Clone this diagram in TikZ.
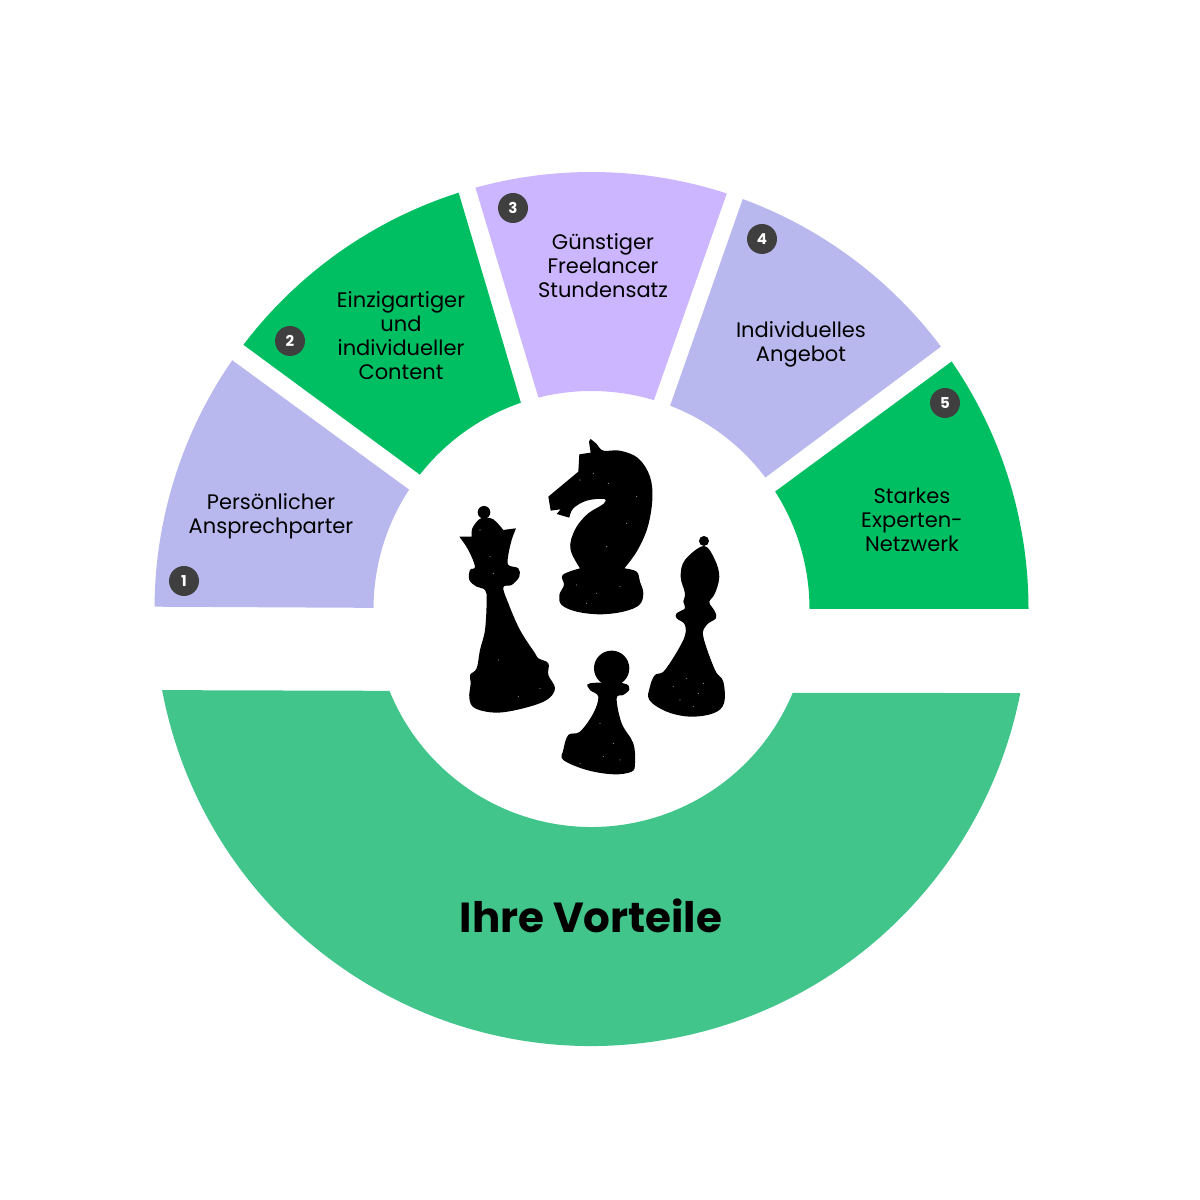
\documentclass[tikz,border=0pt]{standalone}
\usepackage{fontspec}
\setmainfont{Poppins}
\definecolor{lavender}{HTML}{B9B8EE}
\definecolor{richgreen}{HTML}{00BF63}
\definecolor{lilac}{HTML}{CBB6FF}
\definecolor{softgreen}{HTML}{41C58B}
\definecolor{badgegrey}{HTML}{3F3F3F}
\newcommand{\ringseg}[5]{\fill[#1] (#2:437) arc[start angle=#2, end angle=#3, radius=437] -- (#4:218) arc[start angle=#4, end angle=#5, radius=218] -- cycle;}

\begin{document}
\begin{tikzpicture}[
    x=1pt, y=1pt,
    lbl/.style={align=center, inner sep=0pt, font=\fontsize{21}{24}\selectfont},
    badge/.style={circle, fill=badgegrey, text=white, minimum size=30pt, inner sep=0pt, font=\fontsize{15}{15}\selectfont\bfseries},
    title/.style={inner sep=0pt, font=\fontsize{42}{48}\selectfont\bfseries},
    piece/.style={fill=black},
    speck/.style={fill=white!70!black},
    zoomframe/.style={shift={(440,770)}, x=0.3333pt, y=-0.3333pt},
    soft/.style={smooth, tension=.6}
]
    \useasboundingbox (0,0) rectangle (1200,1200);

    % ring
    \begin{scope}[shift={(591.5,591)}]
        \ringseg{lavender}{179.7}{145.3}{146.8}{179.7}
        \ringseg{richgreen}{142.8}{107.7}{108.9}{141.95}
        \ringseg{lilac}{105.4}{71.96}{73.35}{104.1}
        \ringseg{lavender}{69.75}{36.9}{37.1}{68.86}
        \ringseg{richgreen}{34.5}{0}{0}{32.6}
        \ringseg{softgreen}{190.7}{348.9}{337.4}{202.05}
    \end{scope}

    % chess pieces
    \begin{scope}[zoomframe]
        % knight
        \fill[piece] plot[soft] coordinates {(452,27) (470,42) (490,62) (540,62) (595,85) (630,140) (637,210) (622,295) (590,365) (553,415)}
            -- plot[soft] coordinates {(553,415) (590,425) (600,455) (610,490) (598,525) (550,545) (480,553) (410,545) (365,525) (358,495) (372,465) (368,435) (420,415)}
            -- plot[soft] coordinates {(420,415) (395,370) (392,335) (410,290) (445,250) (490,222) (492,207) (440,212) (400,235) (388,263)}
            -- (350,252) -- (362,238) -- (332,242) -- (325,200) -- (415,125) -- (418,73) -- (452,68) -- (447,35) -- cycle;
        % queen
        \fill[piece] (132,247) circle[radius=19];
        \fill[piece] plot[soft] coordinates {(130,262) (160,268) (190,300)}
            -- (228,295)
            -- plot[soft] coordinates {(228,295) (215,330) (205,375) (205,405) (235,415) (238,440) (215,465) (190,472) (205,520) (240,600) (285,670) (295,685) (325,700) (325,735) (345,775) (320,810) (250,835) (170,848) (105,835) (88,805) (92,760) (90,735) (110,715) (120,660) (135,600) (140,510) (135,480) (110,470) (88,450) (90,420) (105,410) (85,360) (58,320)}
            -- (95,320)
            -- plot[soft] coordinates {(95,320) (97,295) (115,270) (130,262)} -- cycle;
        % bishop
        \fill[piece] (792,333) circle[radius=15];
        \fill[piece] plot[smooth cycle, tension=.6] coordinates {(792,348) (825,390) (838,440) (825,490) (808,515) (815,530) (825,545) (828,565) (800,585) (790,620) (825,720) (850,755) (852,820) (820,850) (750,860) (680,845) (628,810) (630,770) (645,735) (675,720) (730,630) (735,585) (710,565) (710,550) (735,535) (730,515) (735,490) (722,440) (735,390)};
        % pawn
        \fill[piece] (515,715) circle[radius=53];
        \fill[piece] plot[smooth cycle, tension=.6] coordinates {(550,760) (568,778) (550,795) (530,805) (545,880) (580,940) (585,1000) (575,1025) (520,1033) (440,1020) (370,990) (370,960) (385,915) (420,905) (460,850) (475,800) (450,780) (450,760)};
        % speckles
        \foreach \px/\py in {420/150, 460/130, 505/160, 590/200, 560/280, 500/350, 410/465, 470/490, 540/470, 440/520, 150/380, 160/430, 120/300, 175/690, 300/775, 235/800, 740/745, 775/790, 720/810, 790/760, 760/830, 700/770, 490/980, 520/940, 420/1000, 540/990, 480/880}
            \fill[speck] (\px,\py) circle[radius=1.6];
    \end{scope}

    % labels
    \node[lbl] (ansprech) at (271,684) {Persönlicher\\Ansprechparter};
    \node[lbl] (content) at (401,864) {Einzigartiger\\und\\individueller\\Content};
    \node[lbl] (stundensatz) at (603,934) {Günstiger\\Freelancer\\Stundensatz};
    \node[lbl] (angebot) at (801,856) {Individuelles\\Angebot};
    \node[lbl] (netzwerk) at (912,680) {Starkes\\Experten-\\Netzwerk};
    \node[title] (vorteile) at (591,284) {Ihre Vorteile};

    % number badges
    \node[badge] (one) at (184,619) {1};
    \node[badge] (two) at (290,859) {2};
    \node[badge] (three) at (513,992) {3};
    \node[badge] (four) at (762,961) {4};
    \node[badge] (five) at (945,797) {5};
\end{tikzpicture}
\end{document}
